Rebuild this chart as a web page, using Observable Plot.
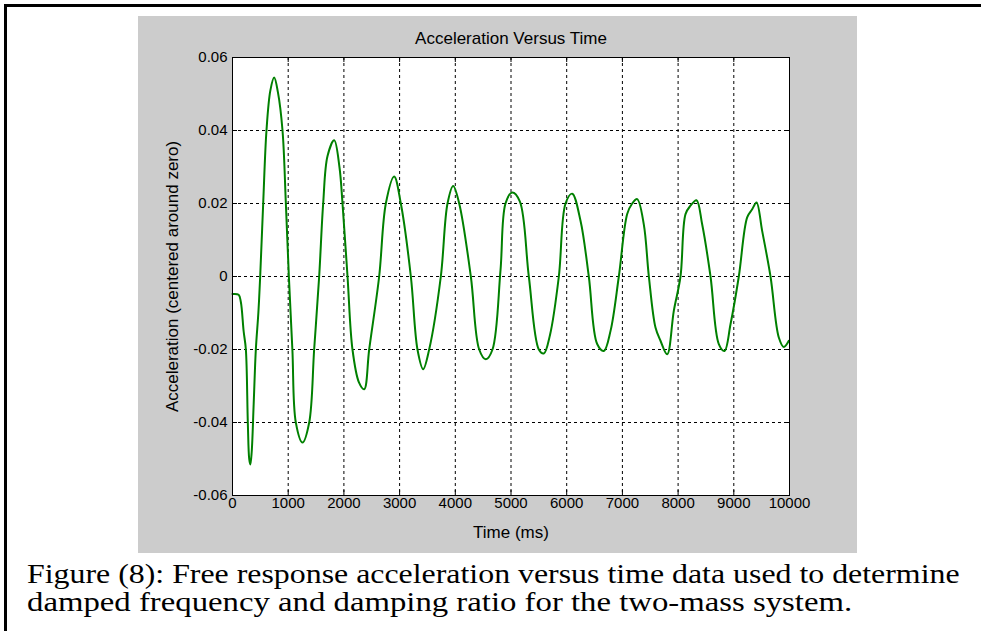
<!DOCTYPE html>
<html>
<head>
<meta charset="utf-8">
<script src="https://cdn.jsdelivr.net/npm/d3@7"></script>
<script src="https://cdn.jsdelivr.net/npm/@observablehq/plot@0.6"></script>
<style>
  body { margin: 0; background: #fff; }
  #page { position: relative; width: 981px; height: 631px; overflow: hidden; background: #fff; }
  .cap { position: absolute; left: 27px; font-family: "Liberation Serif", "Times New Roman", serif; font-size: 28px; line-height: 32px; white-space: nowrap; color: #000; transform-origin: 0 50%; }
</style>
</head>
<body>
<div id="page">
  <div style="position:absolute;left:4px;top:4px;width:977px;height:3px;background:#000"></div>
  <div style="position:absolute;left:4px;top:4px;width:3px;height:627px;background:#000"></div>
  <div id="chart" style="position:absolute;left:138px;top:16px"></div>
  <div class="cap" id="cap1" style="top:558px;transform:scaleX(1.138)"></div>
  <div class="cap" id="cap2" style="top:586px;transform:scaleX(1.17)"></div>
</div>
<script>
// ---- data ----
const title = "Acceleration Versus Time";
const xLabel = "Time (ms)";
const yLabel = "Acceleration (centered around zero)";
const captionLines = [
  "Figure (8): Free response acceleration versus time data used to determine",
  "damped frequency and damping ratio for the two-mass system."
];
const xTicks = [0, 1000, 2000, 3000, 4000, 5000, 6000, 7000, 8000, 9000, 10000];
const xTickLabels = ["0", "1000", "2000", "3000", "4000", "5000", "6000", "7000", "8000", "9000", "10000"];
const yTicks = [-0.06, -0.04, -0.02, 0, 0.02, 0.04, 0.06];
const yTickLabels = ["-0.06", "-0.04", "-0.02", "0", "0.02", "0.04", "0.06"];
const xGrid = [1000, 2000, 3000, 4000, 5000, 6000, 7000, 8000, 9000];
const yGrid = [-0.04, -0.02, 0, 0.02, 0.04];

// time (ms) and acceleration
const timeMs = [
  0, 110, 150, 200, 240, 275, 300, 320, 345, 380, 419, 464, 497, 551, 610, 680, 748, 815, 898, 958,
  1012, 1075, 1137, 1257, 1377, 1466, 1556, 1628, 1706, 1826, 1920, 1975, 2065, 2154, 2270, 2364, 2454, 2633, 2753, 2902, 3022,
  3202, 3321, 3423, 3531, 3740, 3860, 3962, 4070, 4279, 4429, 4548, 4668, 4811, 4901, 5021, 5158, 5320, 5500, 5589, 5700,
  5859, 5979, 6098, 6248, 6397, 6547, 6667, 6787, 6936, 7086, 7176, 7265, 7384, 7475, 7594, 7684, 7804, 7923, 8043, 8133,
  8223, 8330, 8432, 8582, 8731, 8833, 8941, 9090, 9240, 9330, 9408, 9509, 9659, 9808, 9898, 9988
];
const accel = [
  -0.0048, -0.0050, -0.0070, -0.0150, -0.0200, -0.0400, -0.0500, -0.0515, -0.0480, -0.0350, -0.0200, -0.0100, 0.0000, 0.0200, 0.0400, 0.0510, 0.0545, 0.0505, 0.0400, 0.0200,
  0.0000, -0.0200, -0.0400, -0.0455, -0.0400, -0.0200, 0.0000, 0.0200, 0.0330, 0.0373, 0.0300, 0.0200, 0.0000, -0.0200, -0.0290, -0.0309, -0.0200, 0.0000, 0.0200, 0.0274, 0.0200,
  0.0000, -0.0200, -0.0254, -0.0200, 0.0000, 0.0200, 0.0248, 0.0200, 0.0000, -0.0200, -0.0227, -0.0200, 0.0016, 0.0200, 0.0230, 0.0206, 0.0000, -0.0200, -0.0211, -0.0160,
  0.0000, 0.0200, 0.0227, 0.0153, 0.0000, -0.0185, -0.0204, -0.0149, 0.0000, 0.0171, 0.0200, 0.0212, 0.0143, 0.0000, -0.0140, -0.0176, -0.0213, -0.0094, 0.0000, 0.0171,
  0.0194, 0.0209, 0.0143, 0.0000, -0.0185, -0.0204, -0.0131, 0.0000, 0.0162, 0.0184, 0.0203, 0.0125, 0.0000, -0.0167, -0.0193, -0.0176
];

const series = timeMs.map((t, i) => ({t, a: accel[i]}));

const chart = Plot.plot({
  width: 719,
  height: 537,
  marginLeft: 94,
  marginRight: 68,
  marginTop: 41,
  marginBottom: 58,
  style: {background: "#cccccc", fontFamily: "'Liberation Sans', Arial, sans-serif", fontSize: "15px", color: "#000", overflow: "visible"},
  x: {domain: [0, 10000], axis: null},
  y: {domain: [-0.06, 0.06], axis: null},
  marks: [
    Plot.frame({fill: "white"}),
    Plot.ruleX(xGrid, {x: d => d, stroke: "#000", strokeWidth: 1, strokeDasharray: "3,3"}),
    Plot.ruleY(yGrid, {y: d => d, stroke: "#000", strokeWidth: 1, strokeDasharray: "3,3"}),
    Plot.line(series, {x: "t", y: "a", stroke: "#008000", strokeWidth: 2, curve: "catmull-rom"}),
    Plot.tickX(xTicks, {x: d => d, insetTop: 433, stroke: "#000"}),
    Plot.tickX(xTicks, {x: d => d, insetBottom: 433, stroke: "#000"}),
    Plot.tickY(yTicks, {y: d => d, insetRight: 552, stroke: "#000"}),
    Plot.tickY(yTicks, {y: d => d, insetLeft: 552, stroke: "#000"}),
    Plot.frame({stroke: "#000", strokeWidth: 1}),
    Plot.text(xTicks, {x: d => d, frameAnchor: "bottom", lineAnchor: "middle", textAnchor: "middle", dy: 8, text: (d, i) => xTickLabels[i], fill: "#000", fontSize: 15}),
    Plot.text(yTicks, {y: d => d, frameAnchor: "left", lineAnchor: "middle", textAnchor: "end", dx: -5, text: (d, i) => yTickLabels[i], fill: "#000", fontSize: 15}),
    Plot.text([title], {frameAnchor: "top", lineAnchor: "middle", textAnchor: "middle", dy: -19, text: d => d, fill: "#000", fontSize: 17}),
    Plot.text([xLabel], {frameAnchor: "bottom", lineAnchor: "middle", textAnchor: "middle", dy: 37, text: d => d, fill: "#000", fontSize: 17}),
    Plot.text([yLabel], {frameAnchor: "left", lineAnchor: "middle", textAnchor: "middle", dx: -60, rotate: -90, text: d => d, fill: "#000", fontSize: 17})
  ]
});
document.getElementById("chart").appendChild(chart);
document.getElementById("cap1").textContent = captionLines[0];
document.getElementById("cap2").textContent = captionLines[1];
</script>
</body>
</html>
